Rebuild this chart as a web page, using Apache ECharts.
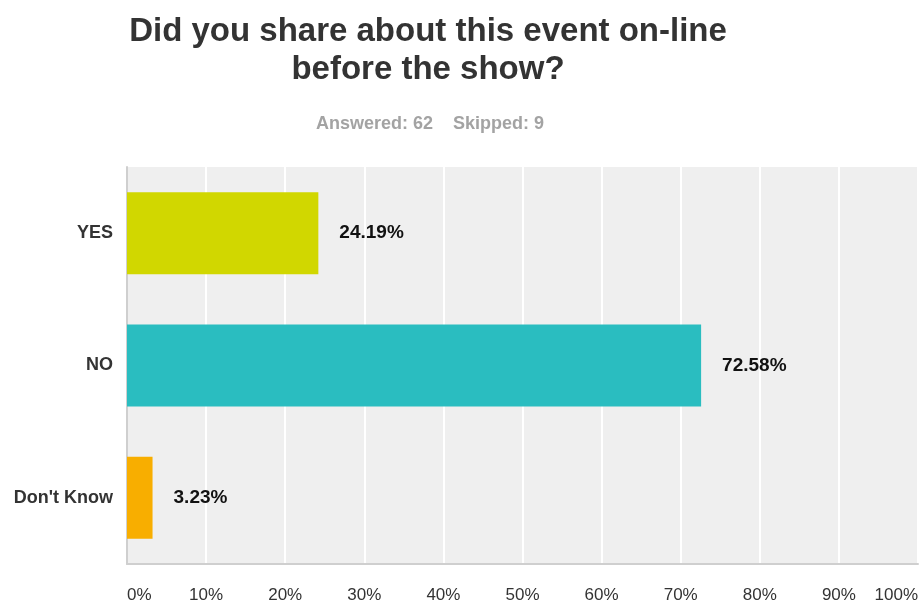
<!DOCTYPE html>
<html>
<head>
<meta charset="utf-8">
<script src="https://cdn.jsdelivr.net/npm/echarts@6/dist/echarts.min.js"></script>
<style>
  html, body { margin: 0; padding: 0; background: #ffffff; }
  #chart { width: 922px; height: 602px; }
</style>
</head>
<body>
<div id="chart"></div>
<script>
// Survey answers and their shares (percent of respondents)
const categories = ['YES', 'NO', "Don't Know"];
const shares = [24.19, 72.58, 3.23];
const barColors = ['#d1d700', '#2abdc0', '#f8ae00'];
const axisTicks = [0, 10, 20, 30, 40, 50, 60, 70, 80, 90, 100];

const FONT = '"Liberation Sans", Arial, Helvetica, sans-serif';

const chart = echarts.init(document.getElementById('chart'), null, { renderer: 'canvas' });

chart.setOption({
  backgroundColor: '#ffffff',
  animation: false,
  title: [
    {
      text: 'Did you share about this event on-line\nbefore the show?',
      left: 423,
      top: 8,
      textAlign: 'center',
      textStyle: {
        fontFamily: FONT,
        fontSize: 33,
        fontWeight: 'bold',
        color: '#333333',
        lineHeight: 38
      }
    },
    {
      text: 'Answered: 62    Skipped: 9',
      left: 425,
      top: 110,
      textAlign: 'center',
      textStyle: {
        fontFamily: FONT,
        fontSize: 18,
        fontWeight: 'bold',
        color: '#a3a3a3'
      }
    }
  ],
  grid: {
    left: 127,
    right: 4,
    top: 167,
    bottom: 38,
    outerBoundsMode: 'none',
    containLabel: false,
    show: true,
    backgroundColor: '#efefef',
    borderWidth: 0
  },
  xAxis: {
    type: 'value',
    min: axisTicks[0],
    max: axisTicks[axisTicks.length - 1],
    interval: axisTicks[1] - axisTicks[0],
    axisLine: { show: true, lineStyle: { color: '#cfcfcf', width: 2 } },
    axisTick: { show: false },
    splitLine: { show: true, lineStyle: { color: '#ffffff', width: 2 } },
    axisLabel: {
      margin: 23,
      fontFamily: FONT,
      fontSize: 17,
      color: '#333333',
      formatter: '{value}%',
      alignMinLabel: 'left',
      alignMaxLabel: 'right'
    }
  },
  yAxis: {
    type: 'category',
    data: categories,
    inverse: true,
    axisLine: { show: true, lineStyle: { color: '#cfcfcf', width: 2 } },
    axisTick: { show: false },
    splitLine: { show: false },
    axisLabel: {
      margin: 14,
      fontFamily: FONT,
      fontSize: 18,
      fontWeight: 'bold',
      color: '#333333'
    }
  },
  series: [
    {
      type: 'bar',
      barWidth: 82,
      data: shares.map((v, i) => ({ value: v, itemStyle: { color: barColors[i] } })),
      label: {
        show: true,
        position: 'right',
        distance: 21,
        fontFamily: FONT,
        fontSize: 19,
        fontWeight: 'bold',
        color: '#111111',
        formatter: p => p.value.toFixed(2) + '%'
      }
    }
  ]
});
</script>
</body>
</html>
